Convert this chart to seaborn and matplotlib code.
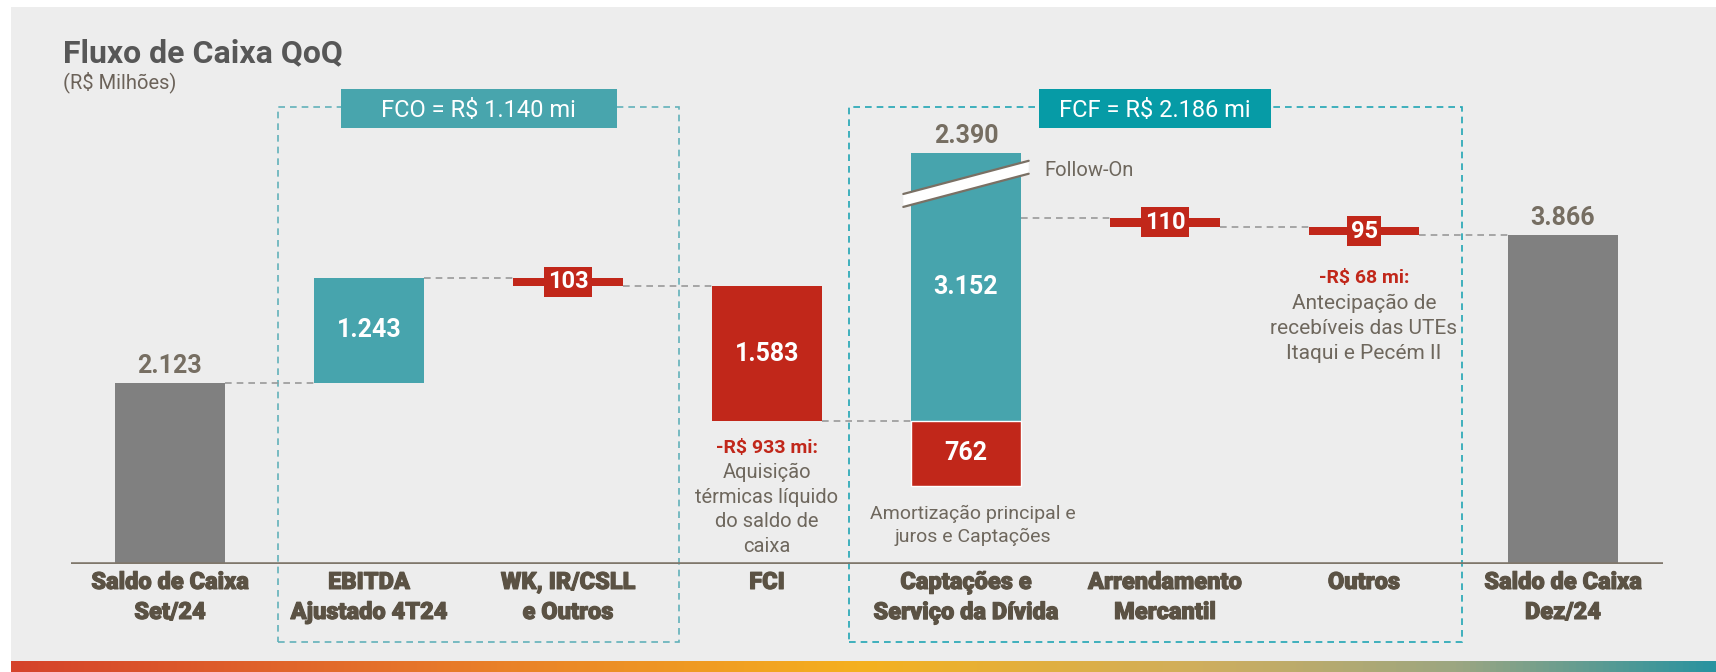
import numpy as np
import pandas as pd
import matplotlib.pyplot as plt
import matplotlib.patheffects as pe
from matplotlib.patches import Rectangle, Polygon
from matplotlib.colors import LinearSegmentedColormap
from matplotlib.transforms import blended_transform_factory
import seaborn as sns

# Fluxo de caixa QoQ (R$ milhões)
categorias = ['Saldo de Caixa\nSet/24', 'EBITDA\nAjustado 4T24', 'WK, IR/CSLL\ne Outros', 'FCI',
              'Captações e\nServiço da Dívida', 'Arrendamento\nMercantil', 'Outros',
              'Saldo de Caixa\nDez/24']
saldo_set24 = 2123
ebitda = 1243
wk_ir_outros = -103
fci = -1583
captacoes = 3152
servico_divida = -762
arrendamento = -110
outros = -95
saldo_dez24 = 3866
fco_total = 1140
fcf_total = 2186

nota_fci = ('-R$ 933 mi:', 'Aquisição\ntérmicas líquido\ndo saldo de\ncaixa')
nota_outros = ('-R$ 68 mi:', 'Antecipação de\nrecebíveis das UTEs\nItaqui e Pecém II')
nota_divida = 'Amortização principal e\njuros e Captações'

# cores
CINZA = '#808080'
VERDE = '#47A4AD'
VERMELHO = '#C1271A'
TXT_VALOR = '#766E62'
TXT_EIXO = '#5B5244'
TXT_NOTA = '#6E675D'


def fmt(v):
    return f'{abs(v):,}'.replace(',', '.')


# niveis acumulados (nivel ao final de cada barra 0..6)
passos = [ebitda, wk_ir_outros, fci, captacoes + servico_divida, arrendamento, outros]
niveis = saldo_set24 + np.cumsum([0] + passos)
alturas = [saldo_set24, ebitda, wk_ir_outros, fci, captacoes, arrendamento, outros, saldo_dez24]
bases = [0] + list(niveis[:6]) + [0]
cores = [CINZA, VERDE, VERMELHO, VERMELHO, VERDE, VERMELHO, VERMELHO, CINZA]
base_captacoes = niveis[3]

df = pd.DataFrame({'categoria': categorias, 'altura': alturas, 'base': bases})
df_div = pd.DataFrame({'categoria': [categorias[4]], 'altura': [servico_divida]})

sns.set_theme(style='white')
plt.rcParams['font.family'] = ['Roboto', 'DejaVu Sans']

fig = plt.figure(figsize=(17.16, 6.72), dpi=100)
fig.patch.set_facecolor('white')
W_PX, H_PX = 1716, 672


def fy(px):
    return 1 - px / H_PX


# painel cinza e faixa colorida
fig.add_artist(Rectangle((11 / W_PX, fy(661)), 1, fy(7) - fy(661), transform=fig.transFigure,
                         fc='#EDEDED', ec='none', zorder=-10))
gax = fig.add_axes([11 / W_PX, 0, 1 - 11 / W_PX, 11 / H_PX])
cmap = LinearSegmentedColormap.from_list('faixa', [(0, '#D5432A'), (0.25, '#E7782A'), (0.5, '#F5B11F'),
                                                   (0.7, '#CFAE5E'), (0.85, '#9BA682'), (1, '#2993A0')])
gax.imshow(np.linspace(0, 1, 512)[None, :], aspect='auto', cmap=cmap)
gax.axis('off')

ax = fig.add_axes([70.5 / W_PX, fy(564), 1592 / W_PX, 464 / H_PX])
ax.set_facecolor('none')
W = 0.553

sns.barplot(data=df, x='categoria', y='altura', order=categorias, bottom=df['base'].values,
            errorbar=None, width=W, saturation=1, color=CINZA, ax=ax)
for patch, cor in zip(ax.patches, cores):
    patch.set_facecolor(cor)
    patch.set_edgecolor('none')
sns.barplot(data=df_div, x='categoria', y='altura', order=categorias, bottom=base_captacoes,
            errorbar=None, width=W, saturation=1, color=VERMELHO, ax=ax)

ax.axhline(0, color='#7F776B', lw=2.6, zorder=3)

# conectores
for i in range(7):
    ax.plot([i + W / 2, i + 1 - W / 2], [niveis[i]] * 2, color='#9A9A9A', lw=1.2,
            ls=(0, (4, 3)), zorder=2)

# rotulos de valor
for i, (b, h) in enumerate(zip(bases, alturas)):
    if i in (0, 7):
        ax.annotate(fmt(h), (i, b + h), xytext=(0, 12.5), textcoords='offset points', ha='center',
                    va='center', fontsize=18, fontweight='bold', color=TXT_VALOR)
    elif abs(h) < 300:
        ax.text(i, b + h / 2, fmt(h), ha='center', va='center', fontsize=17, fontweight='bold',
                color='white', zorder=6,
                bbox=dict(boxstyle='square,pad=0.15', fc=VERMELHO, ec='none'))
    else:
        ax.text(i, b + h / 2, fmt(h), ha='center', va='center', fontsize=18, fontweight='bold',
                color='white', zorder=6)

# serviço da dívida e total líquido das captações
ax.text(4, base_captacoes + servico_divida / 2, fmt(servico_divida), ha='center', va='center',
        fontsize=18, fontweight='bold', color='white', zorder=6)
topo = base_captacoes + captacoes
ax.annotate(fmt(captacoes + servico_divida), (4, topo), xytext=(0, 12), textcoords='offset points',
            ha='center', va='center', fontsize=18, fontweight='bold', color=TXT_VALOR)

# quebra (Follow-On)
xl, xr = 4 - 0.315, 4 + 0.315
yl, yr, esp = topo - 560, topo - 170, 76
ax.add_patch(Polygon([(xl, yl - esp), (xr, yr - esp), (xr, yr + esp), (xl, yl + esp)],
                     closed=True, fc='white', ec='none', zorder=4))
for s in (-1, 1):
    ax.plot([xl, xr], [yl + s * esp, yr + s * esp], color='#7A7064', lw=1.6, zorder=5)
ax.annotate('Follow-On', (4 + W / 2, niveis[4]), xytext=(16.5, 34), textcoords='offset points',
            ha='left', va='center', fontsize=14.5, color=TXT_NOTA)

# notas
ax.annotate(nota_fci[0], (3, niveis[3]), xytext=(0, -19.4), textcoords='offset points',
            ha='center', va='center', fontsize=14, fontweight='bold', color=VERMELHO)
ax.annotate(nota_fci[1], (3, niveis[3]), xytext=(0, -30), textcoords='offset points',
            ha='center', va='top', fontsize=14.5, color=TXT_NOTA, linespacing=1.38)
ax.annotate(nota_outros[0], (6, niveis[6]), xytext=(0, -31), textcoords='offset points',
            ha='center', va='center', fontsize=14, fontweight='bold', color=VERMELHO)
ax.annotate(nota_outros[1], (6, niveis[6]), xytext=(0, -42.5), textcoords='offset points',
            ha='center', va='top', fontsize=15, color=TXT_NOTA, linespacing=1.38)
ax.annotate(nota_divida, (4, base_captacoes + servico_divida), xytext=(5, -14),
            textcoords='offset points', ha='center', va='top', fontsize=14, color=TXT_NOTA,
            linespacing=1.33)

# caixas FCO / FCF
trans = blended_transform_factory(ax.transData, fig.transFigure)
caixas = [(1 - 0.457, 2 + 0.558, '#62B2BA', '#48A5AD', 276 / 199, f'FCO = R$ {fmt(fco_total)} mi'),
          (4 - 0.59, 6 + 0.49, '#22A6B4', '#069BA6', 232 / 199, f'FCF = R$ {fmt(fcf_total)} mi')]
for x0, x1, cor_linha, cor_caixa, larg, txt in caixas:
    ax.add_patch(Rectangle((x0, fy(642)), x1 - x0, fy(107) - fy(642), transform=trans, fill=False,
                           ec=cor_linha, lw=1.2, ls=(0, (4, 3)), clip_on=False, zorder=0.5))
    xc = (x0 + x1) / 2
    ax.add_patch(Rectangle((xc - larg / 2, fy(128)), larg, fy(89) - fy(128), transform=trans,
                           fc=cor_caixa, ec='none', clip_on=False, zorder=6))
    ax.text(xc, fy(117), txt, transform=trans, ha='center', va='baseline', color='white',
            fontsize=17, zorder=7)

# eixos
ax.set_xlim(-0.5, 7.5)
ax.set_ylim(0, 464 / 0.0851)
ax.set_yticks([])
ax.set_xlabel('')
ax.set_ylabel('')
sns.despine(ax=ax, left=True, bottom=True)
ax.tick_params(axis='x', length=0, pad=5, labelsize=17, labelcolor=TXT_EIXO)
for lbl in ax.get_xticklabels():
    lbl.set_fontweight('black')
    lbl.set_linespacing(1.39)
    lbl.set_path_effects([pe.withStroke(linewidth=0.8, foreground=TXT_EIXO)])

# titulo
fig.text(63 / W_PX, fy(62), 'Fluxo de Caixa QoQ', fontsize=23, fontweight='bold', color='#575757',
         va='baseline')
fig.text(63 / W_PX, fy(88), '(R$ Milhões)', fontsize=14.5, color='#6B6259', va='baseline')

fig.savefig('out.png', dpi=100, facecolor=fig.get_facecolor())
